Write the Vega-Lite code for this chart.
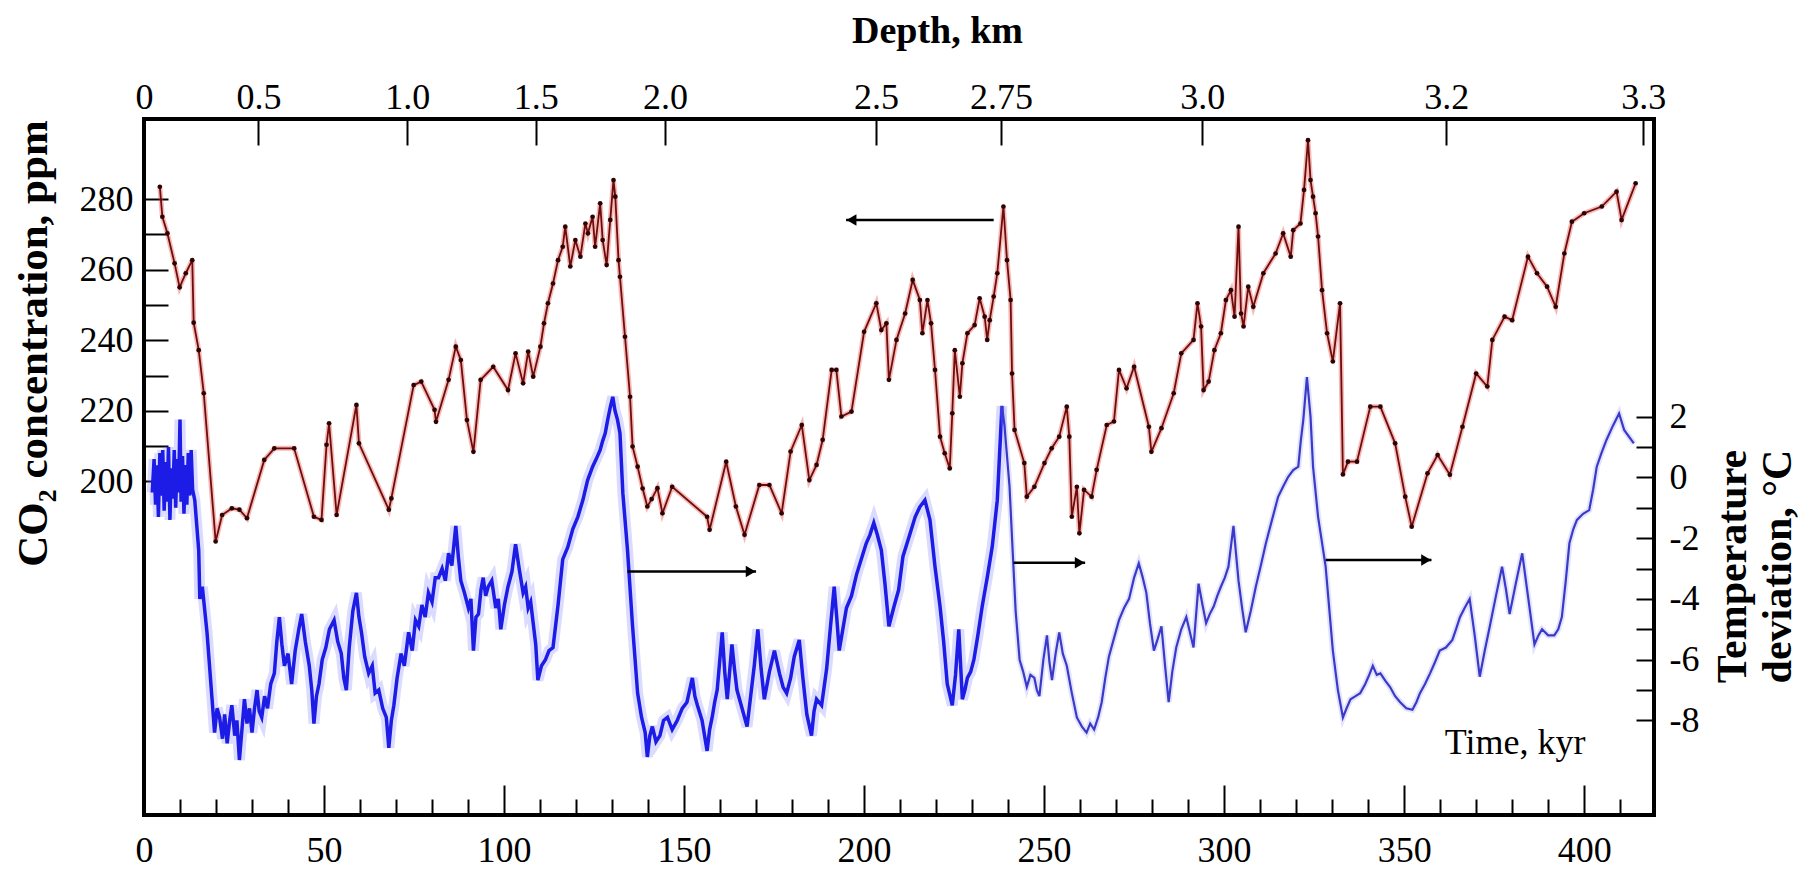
{
"$schema": "https://vega.github.io/schema/vega-lite/v6.json",
"width": 1510, "height": 696,
"autosize": {"type": "none"},
"padding": {"left": 144, "top": 119, "right": 156, "bottom": 60},
"background": "white",
"config": {"view": {"stroke": "black", "strokeWidth": 4}, "font": "Liberation Serif"},
"datasets": {
"co2": [
{"t":4.4,"co2":283.5},{"t":5.1,"co2":275},{"t":6.5,"co2":270.3},{"t":8.5,"co2":261.8},{"t":9.9,"co2":255},{"t":11.6,"co2":259},{"t":13.4,"co2":262.7},{"t":13.8,"co2":245},{"t":15.2,"co2":237.2},{"t":16.6,"co2":225},{"t":19.9,"co2":183},{"t":21.7,"co2":190.5},{"t":24.4,"co2":192.4},{"t":26.5,"co2":192},{"t":28.6,"co2":189.6},{"t":33.4,"co2":206.1},{"t":36.2,"co2":209.4},{"t":41.7,"co2":209.4},{"t":47.2,"co2":190},{"t":49.3,"co2":189.1},{"t":50.7,"co2":210.4},{"t":51.4,"co2":216.5},{"t":53.5,"co2":190.5},{"t":59,"co2":221.7},{"t":59.7,"co2":210.8},{"t":68,"co2":192},{"t":68.7,"co2":195.2},{"t":74.9,"co2":227.3},{"t":77,"co2":228.3},{"t":80.7,"co2":220.3},{"t":81.1,"co2":216.9},{"t":84.6,"co2":228.8},{"t":86.6,"co2":238.2},{"t":88,"co2":234.4},{"t":89.7,"co2":217.4},{"t":91.5,"co2":208.4},{"t":93.5,"co2":228.8},{"t":97,"co2":232.5},{"t":101.1,"co2":225.9},{"t":103.2,"co2":236.3},{"t":105.3,"co2":227.8},{"t":106.7,"co2":236.8},{"t":108.1,"co2":229.7},{"t":110.1,"co2":238.2},{"t":111.1,"co2":244.8},{"t":112.2,"co2":250.5},{"t":113.6,"co2":256.1},{"t":115,"co2":262.7},{"t":116.3,"co2":266.5},{"t":117,"co2":272.2},{"t":118.4,"co2":260.9},{"t":119.8,"co2":268.4},{"t":121.2,"co2":263.7},{"t":122.6,"co2":273.1},{"t":123.3,"co2":270.3},{"t":124.6,"co2":275},{"t":125.3,"co2":266.5},{"t":126.7,"co2":278.8},{"t":127.4,"co2":268.4},{"t":128.5,"co2":261.3},{"t":129.5,"co2":274.1},{"t":130.4,"co2":285.4},{"t":130.9,"co2":280.7},{"t":131.8,"co2":262.7},{"t":132.2,"co2":258},{"t":133.6,"co2":241},{"t":135,"co2":224},{"t":135.7,"co2":209.9},{"t":137.1,"co2":204.2},{"t":138.5,"co2":198},{"t":139.8,"co2":192.9},{"t":141,"co2":195},{"t":142.6,"co2":198.1},{"t":144,"co2":191},{"t":146.7,"co2":198.5},{"t":156.4,"co2":190},{"t":157.1,"co2":186.3},{"t":161.7,"co2":205.6},{"t":164.4,"co2":192.9},{"t":166.8,"co2":184.9},{"t":170.9,"co2":199},{"t":173.7,"co2":199},{"t":177.1,"co2":191},{"t":179.6,"co2":208.5},{"t":182.7,"co2":216},{"t":184.8,"co2":200.4},{"t":186.8,"co2":204.7},{"t":188.5,"co2":211.8},{"t":191,"co2":231.6},{"t":192.3,"co2":231.6},{"t":193.7,"co2":218.4},{"t":196.5,"co2":219.8},{"t":200,"co2":242.4},{"t":203.4,"co2":250.5},{"t":204.8,"co2":242.9},{"t":206.2,"co2":244.8},{"t":206.9,"co2":228.8},{"t":209,"co2":240.1},{"t":211.4,"co2":247.6},{"t":213.5,"co2":257.1},{"t":215.5,"co2":251.4},{"t":216.2,"co2":242},{"t":217.6,"co2":251.4},{"t":218.6,"co2":244.8},{"t":219.7,"co2":231.6},{"t":221.1,"co2":212.7},{"t":222.4,"co2":208},{"t":223.8,"co2":203.7},{"t":224.5,"co2":219.3},{"t":225.2,"co2":237.2},{"t":226.6,"co2":224},{"t":227.3,"co2":233.5},{"t":228.7,"co2":242},{"t":230.7,"co2":244.3},{"t":232.1,"co2":251.9},{"t":233.5,"co2":246.7},{"t":234.2,"co2":240.1},{"t":234.9,"co2":245.7},{"t":236,"co2":252.4},{"t":237,"co2":259},{"t":238.7,"co2":277.9},{"t":239.7,"co2":262.7},{"t":240.7,"co2":251.4},{"t":241.1,"co2":230.6},{"t":241.8,"co2":214.6},{"t":244.5,"co2":205.2},{"t":245.2,"co2":195.7},{"t":247.3,"co2":198.5},{"t":250.1,"co2":205.2},{"t":252.1,"co2":209.4},{"t":254.2,"co2":212.7},{"t":256.3,"co2":221.2},{"t":257,"co2":212.7},{"t":257.7,"co2":190},{"t":259.1,"co2":198.5},{"t":259.8,"co2":185.3},{"t":261.1,"co2":197.6},{"t":263.2,"co2":195.7},{"t":264.6,"co2":203.3},{"t":267.4,"co2":216},{"t":269.4,"co2":217},{"t":270.8,"co2":231.6},{"t":272.9,"co2":226.4},{"t":275,"co2":232.5},{"t":279.1,"co2":215.5},{"t":279.8,"co2":208.4},{"t":282.6,"co2":215.1},{"t":286,"co2":225},{"t":288.1,"co2":236.3},{"t":291.5,"co2":240.1},{"t":292.6,"co2":250.5},{"t":293.6,"co2":243.9},{"t":294.3,"co2":225.9},{"t":295.7,"co2":228.3},{"t":297.3,"co2":237.2},{"t":299.1,"co2":242},{"t":300.5,"co2":251.4},{"t":301.9,"co2":254.2},{"t":302.9,"co2":246.7},{"t":304,"co2":272.2},{"t":304.7,"co2":247.6},{"t":305.4,"co2":243.9},{"t":306.7,"co2":255.2},{"t":308.1,"co2":249.5},{"t":310.9,"co2":259},{"t":314.3,"co2":264.6},{"t":316.4,"co2":270.3},{"t":318.5,"co2":263.7},{"t":319.2,"co2":271.2},{"t":321.2,"co2":273.1},{"t":322.2,"co2":282.6},{"t":323.3,"co2":296.7},{"t":324,"co2":285.4},{"t":324.7,"co2":280.7},{"t":325.4,"co2":276},{"t":326.1,"co2":269.4},{"t":327.2,"co2":254.2},{"t":328.6,"co2":242},{"t":330.2,"co2":234},{"t":332.2,"co2":250.5},{"t":333,"co2":202},{"t":334.4,"co2":205.6},{"t":336.9,"co2":205.6},{"t":340.6,"co2":221.2},{"t":343.4,"co2":221.2},{"t":347.5,"co2":210.8},{"t":350.3,"co2":195.7},{"t":352.1,"co2":187.2},{"t":356.5,"co2":202.3},{"t":359.3,"co2":207.5},{"t":362.7,"co2":201.9},{"t":366.2,"co2":215.5},{"t":370,"co2":230.6},{"t":373.1,"co2":226.9},{"t":374.5,"co2":240.1},{"t":377.9,"co2":246.7},{"t":380,"co2":245.7},{"t":384.4,"co2":263.7},{"t":386.9,"co2":259},{"t":389.7,"co2":255.2},{"t":392.1,"co2":249.5},{"t":394.5,"co2":264.6},{"t":396.6,"co2":273.6},{"t":400,"co2":276},{"t":404.9,"co2":277.9},{"t":409,"co2":282.1},{"t":410.4,"co2":274.1},{"t":414.3,"co2":284.5}
],
"temp": [
{"t":2.3,"temp":-0.5},{"t":2.8,"temp":0.6},{"t":3.2,"temp":-0.9},{"t":3.6,"temp":0.4},{"t":4.0,"temp":-1.3},{"t":4.4,"temp":0.8},{"t":4.8,"temp":-0.6},{"t":5.2,"temp":0.9},{"t":5.6,"temp":-1.1},{"t":6.0,"temp":0.5},{"t":6.4,"temp":-0.8},{"t":6.8,"temp":1.0},{"t":7.2,"temp":-1.4},{"t":7.6,"temp":0.3},{"t":8.0,"temp":-0.7},{"t":8.4,"temp":0.9},{"t":8.8,"temp":-1.0},{"t":9.2,"temp":0.6},{"t":9.6,"temp":-0.5},{"t":10.0,"temp":1.9},{"t":10.3,"temp":-0.8},{"t":10.7,"temp":0.7},{"t":11.1,"temp":-1.2},{"t":11.5,"temp":0.4},{"t":11.9,"temp":-0.9},{"t":12.3,"temp":0.8},{"t":12.7,"temp":-0.6},{"t":13.1,"temp":0.9},{"t":13.5,"temp":-0.4},{"t":14.1,"temp":-0.75},{"t":15.2,"temp":-2.4},{"t":15.5,"temp":-4.0},{"t":16.2,"temp":-3.6},{"t":17.5,"temp":-5.1},{"t":18.9,"temp":-7.3},{"t":19.6,"temp":-8.4},{"t":20.3,"temp":-7.6},{"t":21,"temp":-7.9},{"t":21.8,"temp":-8.6},{"t":22.4,"temp":-7.8},{"t":23.1,"temp":-8.75},{"t":23.8,"temp":-8.0},{"t":24.4,"temp":-7.5},{"t":25.2,"temp":-8.5},{"t":25.8,"temp":-8.0},{"t":26.5,"temp":-9.3},{"t":27.2,"temp":-8.3},{"t":27.9,"temp":-7.3},{"t":28.6,"temp":-8.1},{"t":29.3,"temp":-7.6},{"t":30,"temp":-8.4},{"t":30.7,"temp":-7.6},{"t":31.4,"temp":-7.0},{"t":32,"temp":-7.7},{"t":32.7,"temp":-7.9},{"t":33.5,"temp":-7.2},{"t":34.3,"temp":-7.6},{"t":35.2,"temp":-6.8},{"t":36.2,"temp":-6.45},{"t":36.9,"temp":-5.4},{"t":37.6,"temp":-4.6},{"t":38.3,"temp":-5.5},{"t":39,"temp":-6.2},{"t":40,"temp":-5.8},{"t":41,"temp":-6.8},{"t":42,"temp":-5.7},{"t":43,"temp":-5.0},{"t":43.8,"temp":-4.5},{"t":44.8,"temp":-5.4},{"t":45.9,"temp":-6.2},{"t":46.6,"temp":-7.0},{"t":47.2,"temp":-8.1},{"t":47.9,"temp":-7.2},{"t":48.6,"temp":-6.8},{"t":49.5,"temp":-6.0},{"t":50.5,"temp":-5.6},{"t":51.5,"temp":-5.0},{"t":52.8,"temp":-4.7},{"t":53.8,"temp":-5.4},{"t":54.8,"temp":-5.8},{"t":55.5,"temp":-6.6},{"t":56.2,"temp":-7.0},{"t":57,"temp":-5.6},{"t":58,"temp":-4.4},{"t":59,"temp":-3.8},{"t":59.7,"temp":-4.6},{"t":60.4,"temp":-5.1},{"t":61.3,"temp":-5.9},{"t":62.4,"temp":-6.45},{"t":63.4,"temp":-6.2},{"t":64.2,"temp":-7.1},{"t":65.2,"temp":-7.0},{"t":66.3,"temp":-7.6},{"t":67.3,"temp":-7.9},{"t":68,"temp":-8.9},{"t":68.7,"temp":-8.0},{"t":69.4,"temp":-7.5},{"t":70.3,"temp":-6.6},{"t":71.4,"temp":-5.8},{"t":72.3,"temp":-6.2},{"t":73.5,"temp":-5.1},{"t":74.5,"temp":-5.7},{"t":75.4,"temp":-4.7},{"t":76.3,"temp":-4.9},{"t":77.2,"temp":-4.2},{"t":78.1,"temp":-4.6},{"t":79,"temp":-3.8},{"t":80,"temp":-4.1},{"t":80.9,"temp":-3.3},{"t":81.8,"temp":-3.3},{"t":82.8,"temp":-3.0},{"t":83.7,"temp":-3.4},{"t":84.6,"temp":-2.5},{"t":85.5,"temp":-2.9},{"t":86.6,"temp":-1.6},{"t":87.3,"temp":-2.6},{"t":88,"temp":-3.4},{"t":89,"temp":-3.8},{"t":90.1,"temp":-4.3},{"t":90.8,"temp":-4.0},{"t":91.5,"temp":-5.7},{"t":92.2,"temp":-4.6},{"t":92.9,"temp":-4.5},{"t":93.6,"temp":-3.7},{"t":94.2,"temp":-3.3},{"t":94.9,"temp":-3.9},{"t":95.6,"temp":-3.6},{"t":96.6,"temp":-3.4},{"t":97.7,"temp":-4.3},{"t":98.4,"temp":-4.0},{"t":99.1,"temp":-5.0},{"t":100.1,"temp":-4.2},{"t":101.1,"temp":-3.6},{"t":102.2,"temp":-3.1},{"t":103.2,"temp":-2.2},{"t":104.2,"temp":-3.0},{"t":105.3,"temp":-3.8},{"t":106,"temp":-3.6},{"t":106.7,"temp":-4.3},{"t":107.4,"temp":-4.1},{"t":108.1,"temp":-4.8},{"t":108.8,"temp":-5.5},{"t":109.4,"temp":-6.67},{"t":110.4,"temp":-6.2},{"t":111.5,"temp":-6.0},{"t":112.5,"temp":-5.7},{"t":113.6,"temp":-5.6},{"t":115,"temp":-4.2},{"t":116.3,"temp":-2.7},{"t":117.7,"temp":-2.3},{"t":119.1,"temp":-1.7},{"t":120.5,"temp":-1.3},{"t":121.9,"temp":-0.75},{"t":123.2,"temp":-0.1},{"t":124.6,"temp":0.35},{"t":125.6,"temp":0.6},{"t":126.7,"temp":0.9},{"t":127.4,"temp":1.2},{"t":128.1,"temp":1.45},{"t":128.8,"temp":1.9},{"t":129.5,"temp":2.3},{"t":130.2,"temp":2.65},{"t":130.8,"temp":2.2},{"t":131.5,"temp":1.9},{"t":132.2,"temp":1.45},{"t":133,"temp":-0.53},{"t":134.3,"temp":-2.4},{"t":135.7,"temp":-4.9},{"t":137.1,"temp":-7.1},{"t":138.2,"temp":-7.9},{"t":139.2,"temp":-8.4},{"t":139.8,"temp":-9.2},{"t":140.5,"temp":-8.5},{"t":141.2,"temp":-8.2},{"t":142.2,"temp":-8.7},{"t":143.3,"temp":-8.5},{"t":144.3,"temp":-8.0},{"t":145.4,"temp":-7.9},{"t":146.7,"temp":-8.3},{"t":148.1,"temp":-8.0},{"t":149.5,"temp":-7.6},{"t":150.8,"temp":-7.4},{"t":152.3,"temp":-6.6},{"t":153,"temp":-7.2},{"t":153.7,"temp":-7.5},{"t":155,"temp":-8.0},{"t":156.4,"temp":-9.0},{"t":157.1,"temp":-8.3},{"t":157.8,"temp":-7.9},{"t":158.5,"temp":-7.4},{"t":159.2,"temp":-7.0},{"t":160.6,"temp":-5.1},{"t":161.3,"temp":-6.4},{"t":162,"temp":-7.3},{"t":163.3,"temp":-5.5},{"t":164,"temp":-6.3},{"t":164.7,"temp":-7.0},{"t":166.1,"temp":-7.6},{"t":167.5,"temp":-8.2},{"t":168.5,"temp":-7.2},{"t":169.5,"temp":-6.2},{"t":170.5,"temp":-5.0},{"t":171.4,"temp":-6.3},{"t":172.3,"temp":-7.3},{"t":173.7,"temp":-6.4},{"t":175.1,"temp":-5.7},{"t":176.5,"temp":-6.45},{"t":177.5,"temp":-6.9},{"t":178.5,"temp":-7.1},{"t":179.6,"temp":-6.6},{"t":180.6,"temp":-5.9},{"t":182,"temp":-5.35},{"t":183,"temp":-6.6},{"t":184.1,"temp":-7.8},{"t":185.4,"temp":-8.5},{"t":186.1,"temp":-7.7},{"t":186.8,"temp":-7.3},{"t":188.2,"temp":-7.5},{"t":189.6,"temp":-6.3},{"t":190.6,"temp":-5.0},{"t":191.7,"temp":-3.6},{"t":192.4,"temp":-4.6},{"t":193.1,"temp":-5.7},{"t":194.1,"temp":-5.0},{"t":195.1,"temp":-4.3},{"t":196.5,"temp":-3.9},{"t":197.9,"temp":-3.2},{"t":199.2,"temp":-2.7},{"t":200.6,"temp":-2.17},{"t":201.6,"temp":-1.9},{"t":202.7,"temp":-1.5},{"t":203.7,"temp":-1.9},{"t":204.8,"temp":-2.4},{"t":205.8,"temp":-3.5},{"t":206.9,"temp":-4.9},{"t":208.2,"temp":-4.3},{"t":209.6,"temp":-3.7},{"t":210.8,"temp":-2.6},{"t":212.8,"temp":-1.84},{"t":214.2,"temp":-1.3},{"t":215.5,"temp":-0.97},{"t":216.9,"temp":-0.75},{"t":218.3,"temp":-1.4},{"t":219.7,"temp":-2.94},{"t":221.1,"temp":-4.25},{"t":222.1,"temp":-5.4},{"t":223.1,"temp":-6.8},{"t":224.5,"temp":-7.5},{"t":225.4,"temp":-6.5},{"t":226.3,"temp":-5.0},{"t":227.3,"temp":-7.3},{"t":228,"temp":-7.0},{"t":228.7,"temp":-6.6},{"t":229.6,"temp":-6.4},{"t":230.5,"temp":-6.0},{"t":231.6,"temp":-5.2},{"t":232.8,"temp":-4.25},{"t":234.2,"temp":-3.3},{"t":235.6,"temp":-2.28},{"t":237,"temp":-0.75},{"t":238.3,"temp":2.35},{"t":239,"temp":1.7},{"t":240.4,"temp":-0.3},{"t":241.3,"temp":-2.5},{"t":242.1,"temp":-4.4},{"t":243.2,"temp":-6.0},{"t":244.2,"temp":-6.4},{"t":245.2,"temp":-6.9},{"t":246.2,"temp":-6.5},{"t":247.3,"temp":-6.6},{"t":248,"temp":-7.0},{"t":248.7,"temp":-7.2},{"t":249.8,"temp":-6.0},{"t":250.8,"temp":-5.2},{"t":251.5,"temp":-6.1},{"t":252.2,"temp":-6.67},{"t":253.2,"temp":-5.8},{"t":254.2,"temp":-5.1},{"t":255.2,"temp":-5.8},{"t":256.3,"temp":-6.2},{"t":257.7,"temp":-7.1},{"t":259.1,"temp":-7.9},{"t":260.5,"temp":-8.2},{"t":261.8,"temp":-8.4},{"t":262.8,"temp":-8.1},{"t":263.9,"temp":-8.3},{"t":265,"temp":-7.9},{"t":266,"temp":-7.4},{"t":267,"temp":-6.6},{"t":268,"temp":-5.9},{"t":269.4,"temp":-5.3},{"t":270.8,"temp":-4.7},{"t":272.2,"temp":-4.3},{"t":273.6,"temp":-4.0},{"t":275,"temp":-3.3},{"t":276.3,"temp":-2.83},{"t":277.4,"temp":-3.3},{"t":278.4,"temp":-3.8},{"t":279.4,"temp":-4.8},{"t":280.5,"temp":-5.7},{"t":281.6,"temp":-5.3},{"t":282.6,"temp":-4.9},{"t":283.6,"temp":-6.2},{"t":284.6,"temp":-7.4},{"t":285.6,"temp":-6.4},{"t":286.7,"temp":-5.6},{"t":288.1,"temp":-5.0},{"t":289.5,"temp":-4.6},{"t":290.5,"temp":-5.1},{"t":291.5,"temp":-5.6},{"t":292.9,"temp":-3.5},{"t":294,"temp":-4.2},{"t":295,"temp":-4.8},{"t":296,"temp":-4.5},{"t":297.1,"temp":-4.25},{"t":298.1,"temp":-3.9},{"t":299.1,"temp":-3.6},{"t":300.2,"temp":-3.3},{"t":301.2,"temp":-2.94},{"t":302.6,"temp":-1.6},{"t":303.3,"temp":-2.5},{"t":304,"temp":-3.4},{"t":305,"temp":-4.3},{"t":306,"temp":-5.1},{"t":307.4,"temp":-4.4},{"t":308.8,"temp":-3.6},{"t":310.2,"temp":-2.9},{"t":311.6,"temp":-2.17},{"t":313.3,"temp":-1.4},{"t":315,"temp":-0.64},{"t":316.4,"temp":-0.3},{"t":317.8,"temp":0.02},{"t":319.2,"temp":0.24},{"t":320.6,"temp":0.35},{"t":321.3,"temp":1.2},{"t":322,"temp":1.9},{"t":323,"temp":3.3},{"t":324,"temp":2.0},{"t":324.7,"temp":0.35},{"t":326.1,"temp":-1.3},{"t":328.2,"temp":-2.94},{"t":330.2,"temp":-5.7},{"t":331.6,"temp":-7.0},{"t":333,"temp":-7.9},{"t":334,"temp":-7.6},{"t":335.1,"temp":-7.3},{"t":336.5,"temp":-7.2},{"t":337.8,"temp":-7.1},{"t":339.2,"temp":-6.8},{"t":340.3,"temp":-6.5},{"t":341.3,"temp":-6.2},{"t":342.4,"temp":-6.5},{"t":343.4,"temp":-6.45},{"t":344.8,"temp":-6.7},{"t":346.1,"temp":-6.9},{"t":347.5,"temp":-7.2},{"t":348.9,"temp":-7.4},{"t":350.6,"temp":-7.6},{"t":352.3,"temp":-7.65},{"t":353.4,"temp":-7.4},{"t":354.4,"temp":-7.1},{"t":355.8,"temp":-6.8},{"t":357.2,"temp":-6.45},{"t":358.5,"temp":-6.1},{"t":359.9,"temp":-5.7},{"t":361.6,"temp":-5.6},{"t":363.4,"temp":-5.35},{"t":364.4,"temp":-5.0},{"t":365.5,"temp":-4.6},{"t":366.8,"temp":-4.3},{"t":368.2,"temp":-4.0},{"t":369.6,"temp":-5.2},{"t":371,"temp":-6.56},{"t":372.4,"temp":-5.7},{"t":373.8,"temp":-4.9},{"t":375.5,"temp":-3.9},{"t":377.2,"temp":-2.94},{"t":378.3,"temp":-3.7},{"t":379.3,"temp":-4.5},{"t":381,"temp":-3.5},{"t":382.8,"temp":-2.5},{"t":384.5,"temp":-4.0},{"t":386.2,"temp":-5.5},{"t":387.3,"temp":-5.2},{"t":388.3,"temp":-5.0},{"t":390,"temp":-5.2},{"t":391.7,"temp":-5.2},{"t":392.8,"temp":-5.0},{"t":393.8,"temp":-4.6},{"t":394.9,"temp":-3.4},{"t":395.9,"temp":-2.17},{"t":397,"temp":-1.7},{"t":398,"temp":-1.4},{"t":399.7,"temp":-1.2},{"t":401.4,"temp":-1.08},{"t":402.5,"temp":-0.4},{"t":403.5,"temp":0.35},{"t":404.8,"temp":0.8},{"t":406.2,"temp":1.23},{"t":408,"temp":1.7},{"t":409.7,"temp":2.1},{"t":411.1,"temp":1.56},{"t":413.8,"temp":1.12}
],
"arrowC": [{"t1":236,"t2":195,"head":196.5,"co2":274.1}],
"arrowT": [{"t1":134.3,"t2":170,"head":168.5,"temp":-3.1},{"t1":241.5,"t2":261.4,"head":259.9,"temp":-2.81},{"t1":328.2,"t2":357.6,"head":356.1,"temp":-2.72}],
"label": [{"t":380.8,"temp":-8.74,"text":"Time, kyr"}]
},
"layer": [
{"data": {"name": "temp"}, "transform": [{"filter": "datum.t <= 238.3"}],
 "mark": {"type": "line", "color": "#7f7fff", "strokeWidth": 11, "opacity": 0.28},
 "encoding": {
  "x": {"field": "t", "type": "quantitative", "scale": {"domain": [0, 419.4], "nice": false, "zero": false},
   "axis": {"orient": "top", "values": [0, 31.8, 73.1, 108.8, 144.7, 203.3, 238, 293.9, 361.7, 416.4],
   "labelExpr": "datum.value < 1 ? '0' : datum.value < 40 ? '0.5' : datum.value < 80 ? '1.0' : datum.value < 120 ? '1.5' : datum.value < 160 ? '2.0' : datum.value < 220 ? '2.5' : datum.value < 260 ? '2.75' : datum.value < 320 ? '3.0' : datum.value < 380 ? '3.2' : '3.3'",
   "tickSize": -26, "labelPadding": 29, "tickColor": "black", "tickWidth": 2, "domain": false, "grid": false,
   "labelFont": "Liberation Serif", "labelFontSize": 36, "labelColor": "black", "labelFlush": false, "labelOverlap": false, "labelBound": false,
   "title": "Depth, km", "titleFont": "Liberation Serif", "titleFontSize": 38, "titleFontWeight": "bold", "titleColor": "black",
   "titleX": 793, "titleY": -88, "titleAngle": 0, "titleBaseline": "middle", "titleAlign": "center"}},
  "y": {"field": "temp", "type": "quantitative", "scale": {"domain": [-11.11, 11.79], "nice": false, "zero": false},
   "axis": {"orient": "right", "values": [-8,-7,-6,-5,-4,-3,-2,-1,0,1,2],
   "labelExpr": "datum.value % 2 === 0 ? toString(datum.value) : ''",
   "tickSize": -18, "labelPadding": 33, "tickColor": "black", "tickWidth": 2, "domain": false, "grid": false,
   "labelFont": "Liberation Serif", "labelFontSize": 36, "labelColor": "black", "labelOverlap": false, "labelFlush": false,
   "title": ["Temperature", "deviation, °C"], "titleFont": "Liberation Serif", "titleFontSize": 42, "titleFontWeight": "bold", "titleColor": "black", "titleLineHeight": 45,
   "titleX": 78, "titleY": 447, "titleAngle": 270, "titleBaseline": "middle", "titleAlign": "center"}}
 }},
{"data": {"name": "temp"}, "transform": [{"filter": "datum.t <= 238.3"}],
 "mark": {"type": "line", "color": "#1c1ce6", "strokeWidth": 3.5},
 "encoding": {
  "x": {"field": "t", "type": "quantitative", "scale": {"domain": [0, 419.4], "nice": false, "zero": false}, "axis": null},
  "y": {"field": "temp", "type": "quantitative", "scale": {"domain": [-11.11, 11.79], "nice": false, "zero": false}, "axis": null}
 }},
{"data": {"name": "temp"}, "transform": [{"filter": "datum.t >= 238.3"}],
 "mark": {"type": "line", "color": "#8f8fff", "strokeWidth": 6, "opacity": 0.25},
 "encoding": {
  "x": {"field": "t", "type": "quantitative", "scale": {"domain": [0, 419.4], "nice": false, "zero": false}, "axis": null},
  "y": {"field": "temp", "type": "quantitative", "scale": {"domain": [-11.11, 11.79], "nice": false, "zero": false}, "axis": null}
 }},
{"data": {"name": "temp"}, "transform": [{"filter": "datum.t >= 238.3"}],
 "mark": {"type": "line", "color": "#3a3ac8", "strokeWidth": 2.2},
 "encoding": {
  "x": {"field": "t", "type": "quantitative", "scale": {"domain": [0, 419.4], "nice": false, "zero": false}, "axis": null},
  "y": {"field": "temp", "type": "quantitative", "scale": {"domain": [-11.11, 11.79], "nice": false, "zero": false}, "axis": null}
 }},
{"data": {"name": "co2"},
 "mark": {"type": "line", "color": "#e53935", "strokeWidth": 5, "opacity": 0.35},
 "encoding": {
  "x": {"field": "t", "type": "quantitative", "scale": {"domain": [0, 419.4], "nice": false, "zero": false},
   "axis": {"orient": "bottom", "values": [0,10,20,30,40,50,60,70,80,90,100,110,120,130,140,150,160,170,180,190,200,210,220,230,240,250,260,270,280,290,300,310,320,330,340,350,360,370,380,390,400,410],
   "labelExpr": "datum.value % 50 === 0 ? datum.label : ''",
   "tickSize": {"condition": {"test": "datum.value % 50 === 0", "value": -30}, "value": -16},
   "labelPadding": 48, "tickColor": "black", "tickWidth": 2, "domain": false, "grid": false,
   "labelFont": "Liberation Serif", "labelFontSize": 36, "labelColor": "black", "labelFlush": false, "labelOverlap": false, "labelBound": false, "title": null}},
  "y": {"field": "co2", "type": "quantitative", "scale": {"domain": [105.5, 302.7], "nice": false, "zero": false},
   "axis": {"orient": "left", "values": [200,210,220,230,240,250,260,270,280],
   "labelExpr": "datum.value % 20 === 0 ? datum.label : ''",
   "tickSize": -24, "labelPadding": 35, "tickColor": "black", "tickWidth": 2, "domain": false, "grid": false,
   "labelFont": "Liberation Serif", "labelFontSize": 36, "labelColor": "black", "labelOverlap": false, "labelFlush": false,
   "title": "CO₂ concentration, ppm", "titleFont": "Liberation Serif", "titleFontSize": 43, "titleFontWeight": "bold", "titleColor": "black",
   "titleX": -111, "titleY": 224, "titleAngle": 270, "titleBaseline": "middle", "titleAlign": "center"}}
 }},
{"data": {"name": "co2"},
 "mark": {"type": "line", "color": "#6e0c0c", "strokeWidth": 1.8},
 "encoding": {
  "x": {"field": "t", "type": "quantitative", "scale": {"domain": [0, 419.4], "nice": false, "zero": false}, "axis": null},
  "y": {"field": "co2", "type": "quantitative", "scale": {"domain": [105.5, 302.7], "nice": false, "zero": false}, "axis": null}
 }},
{"data": {"name": "co2"},
 "mark": {"type": "point", "filled": true, "color": "#2b0505", "size": 22, "opacity": 1},
 "encoding": {
  "x": {"field": "t", "type": "quantitative", "scale": {"domain": [0, 419.4], "nice": false, "zero": false}, "axis": null},
  "y": {"field": "co2", "type": "quantitative", "scale": {"domain": [105.5, 302.7], "nice": false, "zero": false}, "axis": null}
 }},
{"data": {"name": "arrowC"}, "mark": {"type": "rule", "color": "black", "strokeWidth": 2.5},
 "encoding": {"x": {"field": "t1", "type": "quantitative", "scale": {"domain": [0, 419.4], "nice": false, "zero": false}, "axis": null},
  "x2": {"field": "t2"},
  "y": {"field": "co2", "type": "quantitative", "scale": {"domain": [105.5, 302.7], "nice": false, "zero": false}, "axis": null}}},
{"data": {"name": "arrowC"}, "mark": {"type": "point", "shape": "triangle-left", "filled": true, "color": "black", "size": 130, "opacity": 1},
 "encoding": {"x": {"field": "head", "type": "quantitative", "scale": {"domain": [0, 419.4], "nice": false, "zero": false}, "axis": null},
  "y": {"field": "co2", "type": "quantitative", "scale": {"domain": [105.5, 302.7], "nice": false, "zero": false}, "axis": null}}},
{"data": {"name": "arrowT"}, "mark": {"type": "rule", "color": "black", "strokeWidth": 2.5},
 "encoding": {"x": {"field": "t1", "type": "quantitative", "scale": {"domain": [0, 419.4], "nice": false, "zero": false}, "axis": null},
  "x2": {"field": "t2"},
  "y": {"field": "temp", "type": "quantitative", "scale": {"domain": [-11.11, 11.79], "nice": false, "zero": false}, "axis": null}}},
{"data": {"name": "arrowT"}, "mark": {"type": "point", "shape": "triangle-right", "filled": true, "color": "black", "size": 130, "opacity": 1},
 "encoding": {"x": {"field": "head", "type": "quantitative", "scale": {"domain": [0, 419.4], "nice": false, "zero": false}, "axis": null},
  "y": {"field": "temp", "type": "quantitative", "scale": {"domain": [-11.11, 11.79], "nice": false, "zero": false}, "axis": null}}},
{"data": {"name": "label"}, "mark": {"type": "text", "font": "Liberation Serif", "fontSize": 36, "color": "black", "align": "center", "baseline": "middle"},
 "encoding": {"x": {"field": "t", "type": "quantitative", "scale": {"domain": [0, 419.4], "nice": false, "zero": false}, "axis": null},
  "y": {"field": "temp", "type": "quantitative", "scale": {"domain": [-11.11, 11.79], "nice": false, "zero": false}, "axis": null},
  "text": {"field": "text"}}}
],
"resolve": {"scale": {"y": "independent"}, "axis": {"x": "independent", "y": "independent"}}
}
